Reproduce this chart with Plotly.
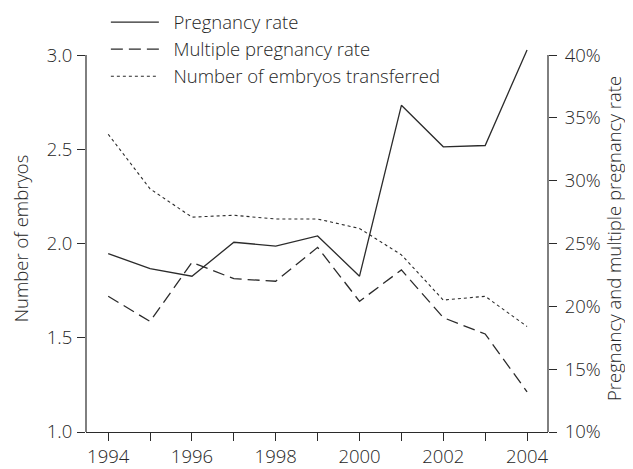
import plotly.graph_objects as go

years = [1994, 1995, 1996, 1997, 1998, 1999, 2000, 2001, 2002, 2003, 2004]
pregnancy_rate = [24.2, 23.0, 22.4, 25.1, 24.8, 25.6, 22.4, 36.0, 32.7, 32.8, 40.4]
multiple_rate = [20.8, 18.8, 23.5, 22.2, 22.0, 24.7, 20.4, 22.9, 19.1, 17.8, 13.2]
embryos = [2.58, 2.29, 2.14, 2.15, 2.13, 2.13, 2.08, 1.94, 1.70, 1.72, 1.56]

left_ticks = [1.0, 1.5, 2.0, 2.5, 3.0]
left_tick_text = ["1.0", "1.5", "2.0", "2.5", "3.0"]
right_ticks = [10, 15, 20, 25, 30, 35, 40]
right_tick_text = ["10%", "15%", "20%", "25%", "30%", "35%", "40%"]
x_tick_text = ["1994", "", "1996", "", "1998", "", "2000", "", "2002", "", "2004"]

INK = "#2b2b2b"
TXT = "#262626"
FONT = "Open Sans"
FS = 18.5
PAD = "\u00a0\u00a0"

fig = go.Figure()
fig.add_trace(go.Scatter(x=years, y=pregnancy_rate, name=PAD + "Pregnancy rate", mode="lines",
                         legendgroup="a", line=dict(color=INK, width=1.3), yaxis="y2"))
fig.add_trace(go.Scatter(x=years, y=multiple_rate, name=PAD + "Multiple pregnancy rate", mode="lines",
                         legendgroup="b", line=dict(color=INK, width=1.3, dash="12px,6px"), yaxis="y2"))
fig.add_trace(go.Scatter(x=years, y=embryos, name=PAD + "Number of embryos transferred", mode="lines",
                         legendgroup="c", line=dict(color=INK, width=1.1, dash="3px,3px"), yaxis="y"))

# vertical axis lines spanning only the ticked range
fig.add_shape(type="line", xref="paper", yref="y", x0=0, x1=0, y0=left_ticks[0], y1=left_ticks[-1],
              line=dict(color=INK, width=1.2))
fig.add_shape(type="line", xref="paper", yref="y2", x0=1, x1=1, y0=right_ticks[0], y1=right_ticks[-1],
              line=dict(color=INK, width=1.2))

tf = dict(family=FONT, size=FS, color=TXT, weight=300)

fig.update_layout(
    width=633, height=469,
    margin=dict(l=77.5, r=92.5, t=37, b=45, autoexpand=False),
    paper_bgcolor="white", plot_bgcolor="white",
    font=tf,
    showlegend=True,
    legend=dict(x=0.043, y=1.107, xanchor="left", yanchor="top", bgcolor="rgba(0,0,0,0)",
                font=tf, itemwidth=48, tracegroupgap=0),
    xaxis=dict(range=[1993.47, 2004.5], tickvals=years, ticktext=x_tick_text,
               showgrid=False, zeroline=False, showline=True, linecolor=INK, linewidth=1.2,
               ticks="outside", ticklen=8, tickcolor=INK, tickwidth=1.2,
               ticklabelstandoff=0, tickfont=tf),
    yaxis=dict(range=[1.0, 3.0 + 0.8 / 15], tickvals=left_ticks, ticktext=left_tick_text,
               showgrid=False, zeroline=False, showline=False,
               ticks="outside", ticklen=8, tickcolor=INK, tickwidth=1.2,
               ticklabelstandoff=1, tickfont=tf,
               title=dict(text="Number of embryos", font=tf, standoff=14)),
    yaxis2=dict(range=[10, 40.8], tickvals=right_ticks, ticktext=right_tick_text,
                overlaying="y", side="right",
                showgrid=False, zeroline=False, showline=False,
                ticks="outside", ticklen=8, tickcolor=INK, tickwidth=1.2,
                ticklabelstandoff=4, tickfont=tf,
                title=dict(text="Pregnancy and multiple pregnancy rate", font=tf, standoff=6)),
)

fig.write_html("out.html")
